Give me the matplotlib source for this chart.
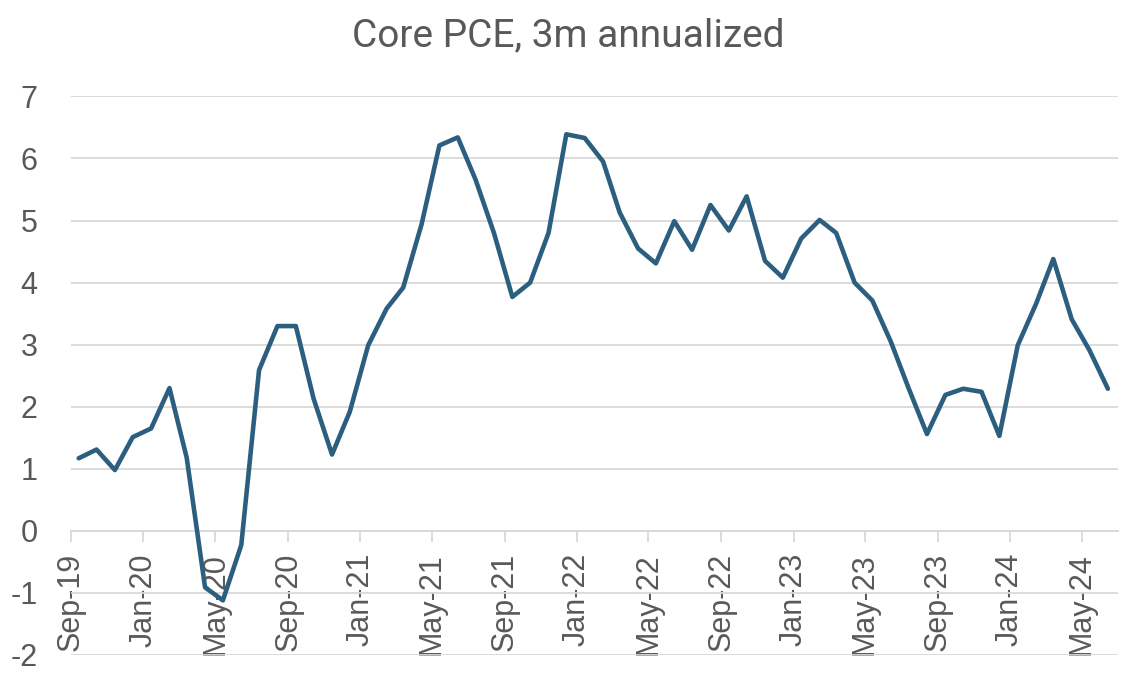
import numpy as np
import pandas as pd
import matplotlib
matplotlib.use("Agg")
import matplotlib.pyplot as plt

plt.rcParams["axes.unicode_minus"] = False

# monthly core PCE, 3m annualized, Sep-19 .. Jun-24
months = pd.date_range("2019-09-01", "2024-06-01", freq="MS")
core_pce_3m = [
    1.17, 1.31, 0.98, 1.51, 1.65, 2.30, 1.18, -0.91, -1.12, -0.23,
    2.59, 3.30, 3.30, 2.13, 1.23, 1.92, 2.99, 3.58, 3.92, 4.94,
    6.21, 6.34, 5.66, 4.80, 3.77, 4.00, 4.80, 6.39, 6.33, 5.95,
    5.13, 4.55, 4.31, 4.99, 4.53, 5.25, 4.84, 5.39, 4.35, 4.08,
    4.71, 5.01, 4.80, 4.00, 3.71, 3.05, 2.30, 1.56, 2.19, 2.29,
    2.24, 1.53, 2.99, 3.66, 4.38, 3.41, 2.91, 2.29,
]
tick_months = pd.date_range("2019-09-01", "2024-05-01", freq="4MS")
tick_labels = ["Sep-19", "Jan-20", "May-20", "Sep-20", "Jan-21", "May-21",
               "Sep-21", "Jan-22", "May-22", "Sep-22", "Jan-23", "May-23",
               "Sep-23", "Jan-24", "May-24"]
y_ticks = list(range(-2, 8))

grey = "#595959"
grid = "#D9D9D9"
line_col = "#2C5F7F"

fig = plt.figure(figsize=(11.38, 6.82), dpi=100)
ax = fig.add_axes([0.0624, 0.0396, 0.92, 0.819])

# points sit a little after the month start on Excel's date axis
x = months + pd.Timedelta(days=13)
ax.plot(x, core_pce_3m, color=line_col, lw=3.3, solid_joinstyle="round",
        solid_capstyle="round", zorder=3)

ax.set_xlim(pd.Timestamp("2019-09-01"), pd.Timestamp("2024-07-01"))
ax.set_ylim(-2, 7)
ax.set_yticks(y_ticks)
ax.set_yticklabels([str(v) for v in y_ticks])
ax.set_xticks(tick_months)
ax.set_xticklabels(tick_labels)

ax.grid(axis="y", color=grid, lw=1.3)
ax.set_axisbelow(True)
for s in ["top", "right", "left"]:
    ax.spines[s].set_visible(False)
ax.spines["bottom"].set_position(("data", 0))
ax.spines["bottom"].set_color(grid)
ax.spines["bottom"].set_linewidth(1.3)

ax.tick_params(axis="y", length=0, pad=24, labelsize=22, labelcolor=grey)
ax.tick_params(axis="x", length=8, width=1.3, color=grid, pad=8,
               labelsize=22, labelcolor=grey, labelrotation=90)
for lab in ax.get_xticklabels() + ax.get_yticklabels():
    lab.set_fontfamily("Liberation Sans")

fig.text(0.499, 0.948, "Core PCE, 3m annualized", ha="center", va="center",
         fontsize=28, color=grey, family="Roboto")

fig.savefig("out.png", dpi=100)
